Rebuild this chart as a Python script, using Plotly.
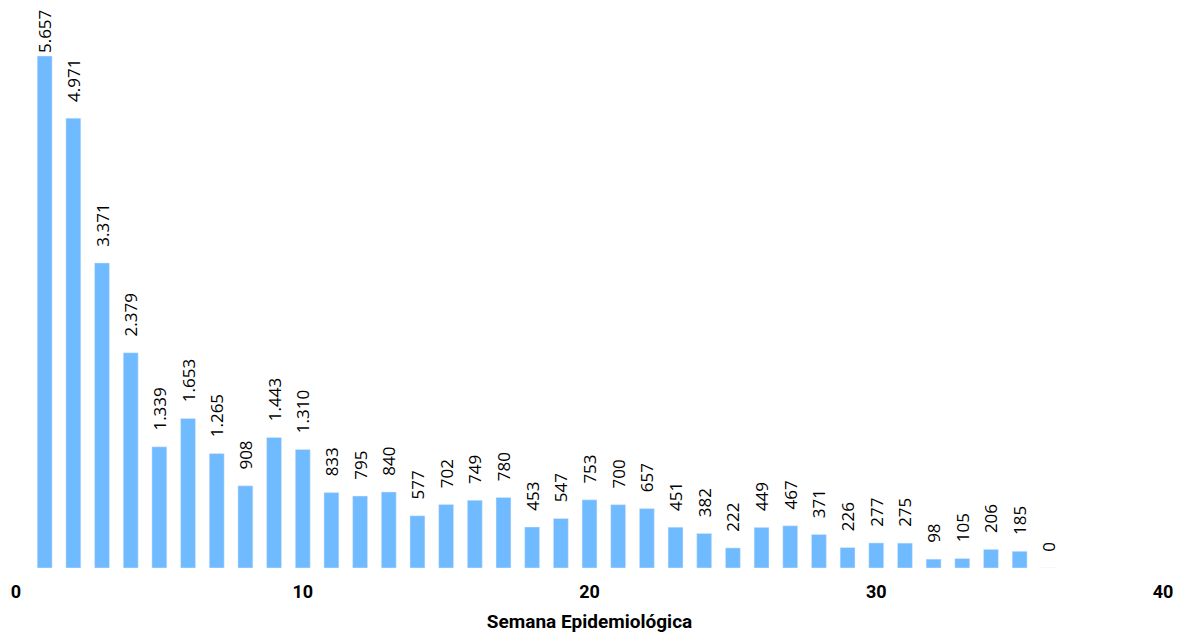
import plotly.graph_objects as go

semanas = list(range(1, 37))
casos = [5657, 4971, 3371, 2379, 1339, 1653, 1265, 908, 1443, 1310,
         833, 795, 840, 577, 702, 749, 780, 453, 547, 753,
         700, 657, 451, 382, 222, 449, 467, 371, 226, 277,
         275, 98, 105, 206, 185, 0]
x_ticks = [0, 10, 20, 30, 40]

def fmt(v):
    return f"{v:,}".replace(",", ".")

pad = "\u00a0" * 3
etiquetas = [(fmt(v) if v == max(casos) else pad + fmt(v)) for v in casos]

fig = go.Figure(go.Bar(
    x=semanas, y=casos, width=0.52,
    marker_color="#70BAFF",
    text=etiquetas, texttemplate="%{text}",
    textposition="outside", textangle=-90, constraintext="none",
    textfont=dict(family="Open Sans", size=17, color="#000000"),
    cliponaxis=False,
))
fig.update_layout(
    width=1177, height=633,
    margin=dict(l=16, r=14, t=8, b=65),
    plot_bgcolor="white", paper_bgcolor="white",
    separators=",.",
    showlegend=False,
    xaxis=dict(range=[0, 40], tickvals=x_ticks, showgrid=False, zeroline=False,
               showline=False, ticks="", automargin=False, ticklabelstandoff=11,
               tickfont=dict(family="Roboto", size=18, color="#000000", weight="bold"),
               title=dict(text="Semana Epidemiológica", standoff=22,
                          font=dict(family="Roboto", size=19, color="#000000", weight="bold"))),
    yaxis=dict(range=[0, 6188], visible=False, showgrid=False, zeroline=False),
)
fig.write_html("out.html",
               config={"displayModeBar": False},
               post_script="document.body.style.margin='0';document.body.style.overflow='hidden';")
